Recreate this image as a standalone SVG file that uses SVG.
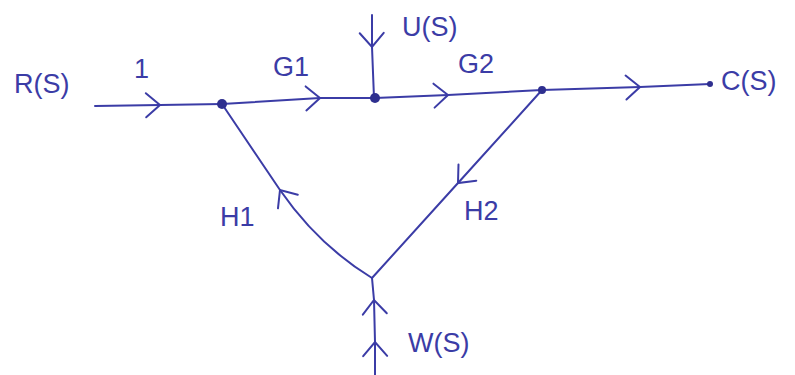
<svg xmlns="http://www.w3.org/2000/svg" width="795" height="375" viewBox="0 0 795 375">
<style>
.e{fill:none;stroke:#3b3ca6;stroke-width:2;stroke-linecap:round;stroke-linejoin:round}
.n{fill:#2e2f8f}
.t{font-family:"Liberation Sans",Arial,sans-serif;font-size:27px;fill:#3b3ca6}
</style>
<defs>
<marker id="ch" markerUnits="userSpaceOnUse" markerWidth="34" markerHeight="34" viewBox="-17 -17 34 34" refX="0" refY="0" orient="auto">
<path d="M -14 -12 L 0 0 L -14 12" fill="none" stroke="#3b3ca6" stroke-width="2" stroke-linecap="round"/>
</marker>
</defs>
<rect width="795" height="375" fill="#ffffff"/>
<g id="connectors">
<polyline class="e" points="95,106 160,105 222,104" marker-mid="url(#ch)"/>
<polyline class="e" points="222,104 320,98 375,98" marker-mid="url(#ch)"/>
<polyline class="e" points="372,15 372,47 374,98" marker-mid="url(#ch)"/>
<polyline class="e" points="375,98 448,95 542,90" marker-mid="url(#ch)"/>
<polyline class="e" points="542,90 640,87 710,84" marker-mid="url(#ch)"/>
<polyline class="e" points="542,90 458,183 372,278" marker-mid="url(#ch)"/>
<path class="e" d="M372,278 Q318,245 280,190 L222,104" marker-mid="url(#ch)"/>
<polyline class="e" points="375,375 375,342 374,300 372,278" marker-mid="url(#ch)"/>
</g>
<g id="node-R"><text class="t" x="14" y="93">R(S)</text></g>
<g id="node-1"><circle class="n" cx="222" cy="104" r="5"/><text class="t" x="134" y="78">1</text></g>
<g id="node-2"><circle class="n" cx="375" cy="98" r="5"/><text class="t" x="273" y="76">G1</text></g>
<g id="node-U"><text class="t" x="402" y="36">U(S)</text></g>
<g id="node-3"><circle class="n" cx="542" cy="90" r="4"/><text class="t" x="458" y="73">G2</text></g>
<g id="node-C"><circle class="n" cx="710" cy="84" r="3"/><text class="t" x="721" y="90">C(S)</text></g>
<g id="node-J"><text class="t" x="220" y="226">H1</text><text class="t" x="464" y="220">H2</text></g>
<g id="node-W"><text class="t" x="408" y="352">W(S)</text></g>
</svg>
